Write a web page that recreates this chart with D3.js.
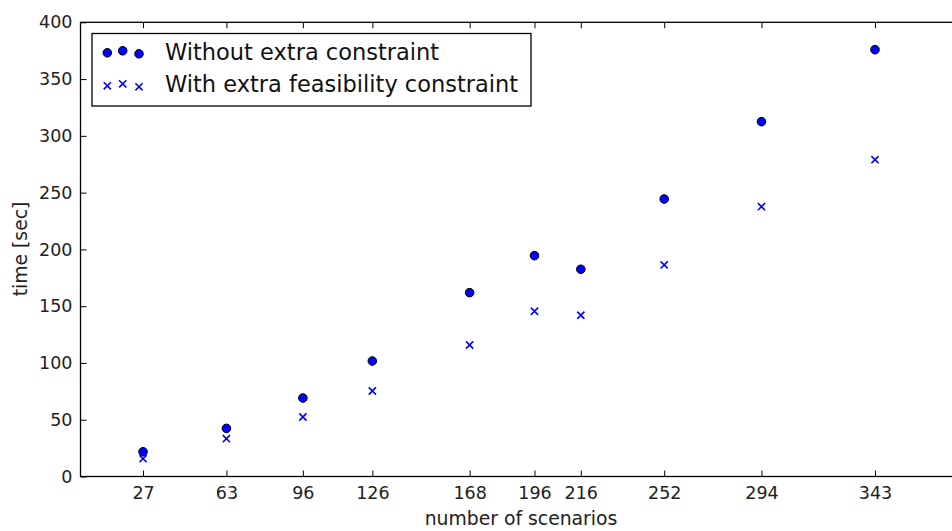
<!DOCTYPE html>
<html>
<head>
<meta charset="utf-8">
<script src="https://cdn.jsdelivr.net/npm/d3@7"></script>
<style>
    body { margin: 0; background: #fff; }
    #chart-container { width: 952px; height: 531px; overflow: hidden; }
    .chart-axis text { font-family: 'DejaVu Sans', sans-serif; font-size: 17.5px; fill: #222; }
    .chart-axis line { stroke: #000; stroke-width: 1; }
    .chart-axis path { display: none; }
</style>
</head>
<body>
<div id="chart-container"></div>
<script>
//data
var scenarios = [27, 63, 96, 126, 168, 196, 216, 252, 294, 343];
var timeWithout = [21.8, 42.4, 69.1, 101.7, 161.9, 194.5, 182.5, 244.4, 312.5, 375.9];
var timeWith = [15.7, 33.3, 52.4, 75.3, 115.8, 145.5, 142.0, 186.3, 237.6, 279.0];
var yTicks = [0, 50, 100, 150, 200, 250, 300, 350, 400];
var seriesNames = ['Without extra constraint', 'With extra feasibility constraint'];

//containers
var chartContainer = d3.select('#chart-container'),
    chartSvg,
    chartG;

//sizes
var chartOuterW = 952,
    chartOuterH = 531,
    chartMargin = {left: 80.5, top: 22.3, right: -55, bottom: 54.5},
    chartW = chartOuterW - chartMargin.left - chartMargin.right,
    chartH = chartOuterH - chartMargin.top - chartMargin.bottom;

//scales
var chartXScale = d3.scaleLinear().domain([0, 400]).range([0, chartW]),
    chartYScale = d3.scaleLinear().domain([0, 400]).range([chartH, 0]);

var markerColor = '#0000ff';

function drawCircle(sel, cx, cy) {
    sel.append('circle')
        .attr('cx', cx)
        .attr('cy', cy)
        .attr('r', 4.3)
        .attr('fill', markerColor)
        .attr('stroke', '#000')
        .attr('stroke-width', 1);
}

function drawCross(sel, cx, cy) {
    var s = 3.6;
    sel.append('path')
        .attr('d', 'M' + (cx - s) + ',' + (cy - s) + 'L' + (cx + s) + ',' + (cy + s) +
                   'M' + (cx - s) + ',' + (cy + s) + 'L' + (cx + s) + ',' + (cy - s))
        .attr('stroke', markerColor)
        .attr('stroke-width', 1.6)
        .attr('fill', 'none');
}

function buildChart() {
    chartSvg = chartContainer.append('svg')
        .attr('width', chartOuterW)
        .attr('height', chartOuterH);

    chartSvg.append('rect')
        .attr('width', chartOuterW)
        .attr('height', chartOuterH)
        .attr('fill', '#fff');

    chartG = chartSvg.append('g')
        .attr('transform', 'translate(' + chartMargin.left + ', ' + chartMargin.top + ')');

    var xAxis = d3.axisBottom(chartXScale)
        .tickValues(scenarios)
        .tickSizeInner(-6)
        .tickSizeOuter(0)
        .tickPadding(10);

    chartG.append('g')
        .attr('class', 'chart-axis')
        .attr('transform', 'translate(0,' + chartH + ')')
        .call(xAxis);

    var xAxisTop = d3.axisTop(chartXScale)
        .tickValues(scenarios)
        .tickSizeInner(-6)
        .tickSizeOuter(0)
        .tickFormat('');

    chartG.append('g')
        .attr('class', 'chart-axis')
        .call(xAxisTop);

    var yAxis = d3.axisLeft(chartYScale)
        .tickValues(yTicks)
        .tickSizeInner(-6)
        .tickSizeOuter(0)
        .tickPadding(8);

    chartG.append('g')
        .attr('class', 'chart-axis')
        .call(yAxis);

    //frame
    chartG.append('rect')
        .attr('x', 0)
        .attr('y', 0)
        .attr('width', chartW)
        .attr('height', chartH)
        .attr('fill', 'none')
        .attr('stroke', '#000')
        .attr('stroke-width', 1.3);

    //points
    var dotsG = chartG.append('g');
    scenarios.forEach(function(d, i) {
        drawCircle(dotsG, chartXScale(d), chartYScale(timeWithout[i]));
    });
    scenarios.forEach(function(d, i) {
        drawCross(dotsG, chartXScale(d), chartYScale(timeWith[i]));
    });

    //axis labels
    chartSvg.append('text')
        .attr('x', 521)
        .attr('y', 525)
        .attr('text-anchor', 'middle')
        .style('font-family', "'DejaVu Sans', sans-serif")
        .style('font-size', '18.8px')
        .style('fill', '#222')
        .text('number of scenarios');

    chartSvg.append('text')
        .attr('transform', 'translate(27,249) rotate(-90)')
        .attr('text-anchor', 'middle')
        .style('font-family', "'DejaVu Sans', sans-serif")
        .style('font-size', '18.8px')
        .style('fill', '#222')
        .text('time [sec]');

    //legend
    var legendG = chartSvg.append('g');
    legendG.append('rect')
        .attr('x', 92)
        .attr('y', 33.5)
        .attr('width', 439)
        .attr('height', 72.5)
        .attr('fill', '#fff')
        .attr('stroke', '#000')
        .attr('stroke-width', 1.3);

    var legendXs = [107.3, 122.7, 139];
    var legendOffsets = [0.5, -1.5, 1.5];
    legendXs.forEach(function(lx, i) {
        drawCircle(legendG, lx, 52.3 + legendOffsets[i]);
        drawCross(legendG, lx, 85.3 + legendOffsets[i]);
    });

    legendG.selectAll('.legend-label')
        .data(seriesNames)
        .enter()
        .append('text')
        .attr('class', 'legend-label')
        .attr('x', 165)
        .attr('y', function(d, i) { return 59.5 + i * 32.5; })
        .style('font-family', "'DejaVu Sans', sans-serif")
        .style('font-size', '22.5px')
        .style('fill', '#111')
        .text(function(d) { return d; });
}

buildChart();
</script>
</body>
</html>
